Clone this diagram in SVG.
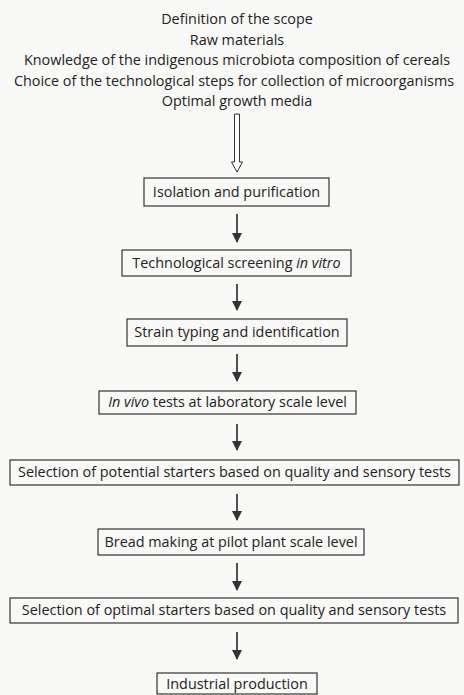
<svg xmlns="http://www.w3.org/2000/svg" width="464" height="695" viewBox="0 0 464 695">
<defs>
<style>
text{font-family:"Open Sans","Liberation Sans",sans-serif;font-size:14.4px;fill:#222;text-anchor:middle}
.box{fill:none;stroke:#333;stroke-width:1.2}
.ln{stroke:#333;stroke-width:1.7;fill:none}
</style>
<marker id="ah" viewBox="0 0 10 10" refX="9" refY="5" markerWidth="6" markerHeight="6" orient="auto" markerUnits="strokeWidth">
<path d="M0,0 L10,5 L0,10 z" fill="#333"/>
</marker>
</defs>
<rect width="464" height="695" fill="#f9f9f7"/>
<g id="header">
<text x="237" y="24">Definition of the scope</text>
<text x="237" y="45">Raw materials</text>
<text x="237" y="65">Knowledge of the indigenous microbiota composition of cereals</text>
<text x="234" y="86">Choice of the technological steps for collection of microorganisms</text>
<text x="237" y="106">Optimal growth media</text>
</g>
<g id="connectors">
<path d="M234.5,114 L239.5,114 L239.5,162 L242.5,162 L237,172 L231.5,162 L234.5,162 Z" fill="#fff" stroke="#333" stroke-width="1"/>
<line class="ln" x1="237" y1="214" x2="237" y2="242" marker-end="url(#ah)"/>
<line class="ln" x1="237" y1="284" x2="237" y2="310" marker-end="url(#ah)"/>
<line class="ln" x1="237" y1="354" x2="237" y2="381" marker-end="url(#ah)"/>
<line class="ln" x1="237" y1="424" x2="237" y2="450" marker-end="url(#ah)"/>
<line class="ln" x1="237" y1="494" x2="237" y2="520" marker-end="url(#ah)"/>
<line class="ln" x1="237" y1="563" x2="237" y2="590" marker-end="url(#ah)"/>
<line class="ln" x1="237" y1="632" x2="237" y2="659" marker-end="url(#ah)"/>
</g>
<g id="n1"><rect class="box" x="144" y="178" width="185" height="28"/><text x="236.5" y="197">Isolation and purification</text></g>
<g id="n2"><rect class="box" x="122" y="250" width="229" height="26"/><text x="236.5" y="268">Technological screening <tspan font-style="italic">in vitro</tspan></text></g>
<g id="n3"><rect class="box" x="127" y="319" width="220" height="27"/><text x="237" y="337">Strain typing and identification</text></g>
<g id="n4"><rect class="box" x="99" y="391" width="257" height="23"/><text x="227.5" y="407"><tspan font-style="italic">In vivo</tspan> tests at laboratory scale level</text></g>
<g id="n5"><rect class="box" x="10" y="460" width="449" height="25"/><text x="234.5" y="477">Selection of potential starters based on quality and sensory tests</text></g>
<g id="n6"><rect class="box" x="98" y="529" width="266" height="26"/><text x="231" y="547">Bread making at pilot plant scale level</text></g>
<g id="n7"><rect class="box" x="10" y="598" width="448" height="25"/><text x="234" y="615">Selection of optimal starters based on quality and sensory tests</text></g>
<g id="n8"><rect class="box" x="157" y="673" width="160" height="21"/><text x="237" y="689">Industrial production</text></g>
</svg>
